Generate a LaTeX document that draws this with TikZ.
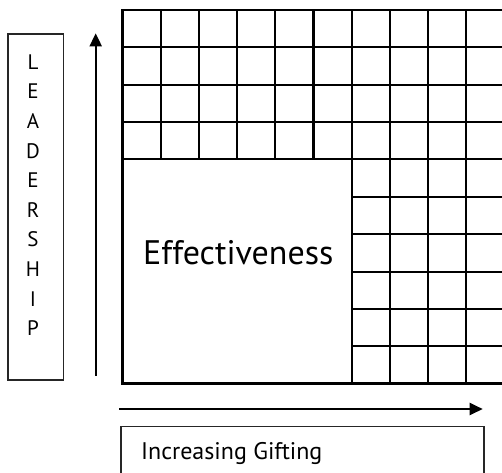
\documentclass[tikz,border=0pt]{standalone}
\usepackage{fontspec}
\setmainfont{PT Sans}
\usetikzlibrary{arrows.meta}
\begin{document}
\begin{tikzpicture}[x=1pt,y=-1pt,
  gridline/.style={line width=2.2pt,black},
  outerline/.style={line width=2.6pt,black},
  labelbox/.style={draw=black!85,line width=1.5pt},
  axisarrow/.style={line width=2pt,-{Triangle[length=13pt,width=12pt]}},
  letter/.style={inner sep=0pt,anchor=base,font=\fontsize{21}{25}\selectfont}]
\useasboundingbox (0,0) rectangle (502,472);
\clip (0,0) rectangle (502,472);
% grid: top rows across full width
\foreach \y in {47.3,84.7,122,159.3}
  \draw[gridline] (122.5,\y) -- (510,\y);
\foreach \x in {160.7,198.9,237.1,275.3,313.5}
  \draw[gridline] (\x,10) -- (\x,159.3);
% right part of grid below
\foreach \y in {196.7,234.3,272,309.3,346}
  \draw[gridline] (351.7,\y) -- (510,\y);
\foreach \x in {351.7,389.9,428.1,466.3}
  \draw[gridline] (\x,10) -- (\x,383.3);
% outer border
\draw[outerline] (510,10) -- (122.5,10) -- (122.5,383.3) -- (510,383.3);
% effectiveness label
\node[inner sep=0pt,anchor=base west,font=\fontsize{34}{40}\selectfont] (eff) at (143,264.3) {Effectiveness};
% leadership box
\node[labelbox,minimum width=55.7pt,minimum height=346pt,inner sep=0pt,anchor=north west] (leadbox) at (7,33.3) {};
\foreach \c [count=\i] in {L,E,A,D,E,R,S,H,I,P}
  \node[letter] (l\i) at (33,{69.3+(\i-1)*29.6}) {\c};
% vertical arrow
\coordinate (vs) at (95.7,375.7);
\coordinate (ve) at (95.7,33.3);
\draw[axisarrow] (vs) -- (ve);
% horizontal arrow
\coordinate (hs) at (119,409);
\coordinate (he) at (482.7,409);
\draw[axisarrow] (hs) -- (he);
% gifting box
\node[labelbox,minimum width=363.3pt,minimum height=60pt,inner sep=0pt,anchor=north west] (giftbox) at (120,425.7) {};
\node[inner sep=0pt,anchor=base west,font=\fontsize{24}{28}\selectfont] (gift) at (141,459.3) {Increasing Gifting};
\end{tikzpicture}
\end{document}
